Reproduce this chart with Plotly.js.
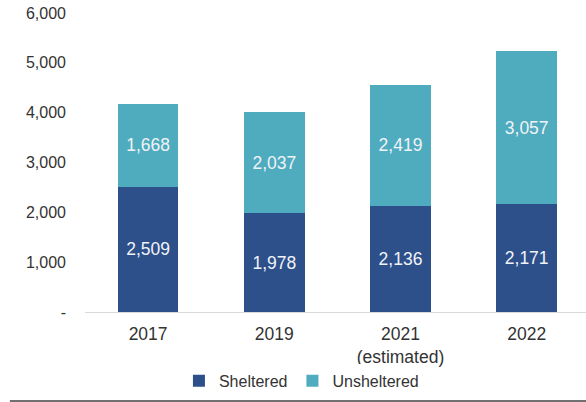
<!DOCTYPE html>
<html>
<head>
<meta charset="utf-8">
<script src="https://cdn.plot.ly/plotly-3.0.1.min.js"></script>
<style>html,body{margin:0;padding:0;background:#fff;}#chart{width:586px;height:402px;}</style>
</head>
<body>
<div id="chart"></div>
<script>
var categories = ["2017", "2019", "2021<br>(estimated)", "2022"];
var sheltered = [2509, 1978, 2136, 2171];
var unsheltered = [1668, 2037, 2419, 3057];
var yTickVals = [0, 1000, 2000, 3000, 4000, 5000, 6000];
var yTickText = ["-", "1,000", "2,000", "3,000", "4,000", "5,000", "6,000"];

function fmt(v){ return v.toLocaleString("en-US"); }

var FONT = "Liberation Sans, Arial, sans-serif";
var traces = [
  {
    type: "bar", name: "Sheltered", x: categories, y: sheltered,
    marker: {color: "#2D4F8A"},
    text: sheltered.map(fmt), textposition: "inside", insidetextanchor: "middle",
    textfont: {color: "#F0F3F8", size: 17.5, family: FONT},
    width: 0.48, hoverinfo: "skip"
  },
  {
    type: "bar", name: "Unsheltered", x: categories, y: unsheltered,
    marker: {color: "#4FABBE"},
    text: unsheltered.map(fmt), textposition: "inside", insidetextanchor: "middle",
    textfont: {color: "#F0F3F8", size: 17.5, family: FONT},
    width: 0.48, hoverinfo: "skip"
  }
];

var layout = {
  width: 586, height: 402,
  margin: {l: 85, r: 0, t: 13, b: 90},
  barmode: "stack",
  paper_bgcolor: "#fff", plot_bgcolor: "#fff",
  font: {family: FONT, size: 16, color: "#333"},
  xaxis: {
    type: "category", range: [-0.5, 3.47],
    showline: true, linecolor: "#D9D9D9", linewidth: 1,
    ticks: "", showgrid: false, zeroline: false,
    ticklabelstandoff: 6,
    tickfont: {size: 17.5, color: "#333"}, automargin: false
  },
  yaxis: {
    range: [0, 6000], tickvals: yTickVals, ticktext: yTickText,
    showgrid: false, zeroline: false, showline: false, ticks: "",
    ticklabelstandoff: 18,
    tickfont: {size: 16, color: "#333"}, automargin: false
  },
  showlegend: true,
  legend: {
    orientation: "h", x: 0.432, xanchor: "center", y: -0.23, yanchor: "middle",
    font: {size: 16, color: "#333"}, itemwidth: 30, traceorder: "normal"
  },
  shapes: [
    {type: "line", xref: "paper", yref: "paper", x0: -0.15, x1: 1, y0: -0.2977, y1: -0.2977,
     line: {color: "#404040", width: 1.5}}
  ]
};

Plotly.newPlot("chart", traces, layout, {displayModeBar: false, staticPlot: true});
</script>
</body>
</html>
